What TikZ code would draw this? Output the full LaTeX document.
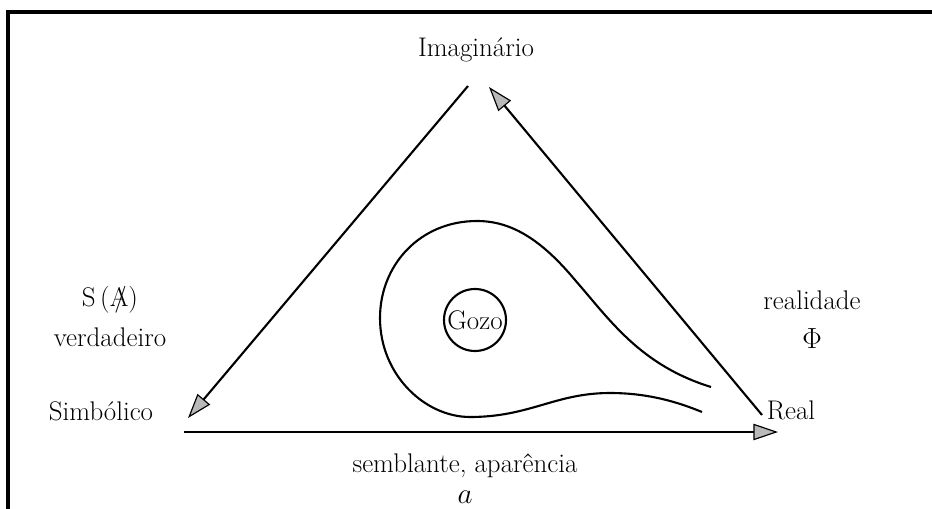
\documentclass[tikz,border=0pt]{standalone}
\usetikzlibrary{arrows.meta}
\begin{document}
\begin{tikzpicture}[x=0.03cm,y=-0.03cm,
  lbl/.style={font=\fontsize{23}{27}\selectfont, inner sep=1pt},
  conn/.style={line width=1.8pt, -{Triangle[length=21pt,width=14pt,fill=gray!55,line width=1pt]}},
  curve/.style={line width=1.8pt}]
\useasboundingbox (0,0) rectangle (932,509);
% frame
\draw[line width=3pt] (8,509) -- (8,12) -- (932,12);
% labels
\node[lbl] (imag) at (476,50) {Imagin\'ario};
\node[lbl] (simb) at (101,411) {Simb\'olico};
\node[lbl] (real) at (791,410) {Real};
\node[lbl] (sa) at (110,300) {S\,(\ooalign{A\cr\hidewidth\kern0.1em/\hidewidth})};
\node[lbl] (verd) at (110,337) {verdadeiro};
\node[lbl] (realid) at (812,300) {realidade};
\node[lbl] (phi) at (812,339) {$\Phi$};
\node[lbl] (semb) at (465,466) {semblante, apar\^encia};
\node[lbl] (a) at (465,497) {$a$};
% corners
\coordinate (Ls) at (468,86);
\coordinate (Le) at (188,418);
\coordinate (Rs) at (762,415);
\coordinate (Re) at (489,87);
\coordinate (Bs) at (184,432);
\coordinate (Be) at (778,432);
\draw[conn] (Ls) -- (Le);
\draw[conn] (Rs) -- (Re);
\draw[conn] (Bs) -- (Be);
% loop
\draw[curve] (711,387) .. controls (640,365) and (610,320) .. (575,280)
  .. controls (540,238) and (510,221) .. (477,221)
  .. controls (420,221) and (380,265) .. (380,318)
  .. controls (380,375) and (425,417) .. (470,417)
  .. controls (530,417) and (555,393) .. (610,393)
  .. controls (650,393) and (680,403) .. (702,412);
% gozo
\node[draw, circle, line width=1.8pt, minimum size=62*0.03cm, inner sep=0pt, font=\fontsize{23}{27}\selectfont] (gozo) at (475,320) {Gozo};
\end{tikzpicture}
\end{document}
